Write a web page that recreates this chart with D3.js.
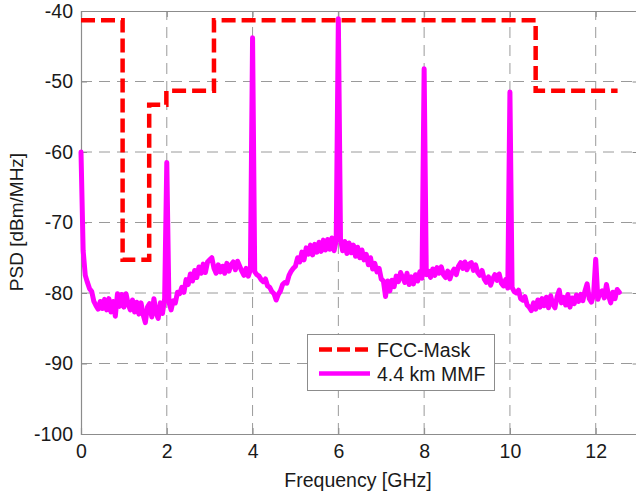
<!DOCTYPE html>
<html>
<head>
<meta charset="utf-8">
<script src="https://cdn.jsdelivr.net/npm/d3@7"></script>
<style>
  html, body { margin: 0; padding: 0; background: #fff; }
  svg { display: block; }
  text { font-family: "Liberation Sans", Arial, Helvetica, sans-serif; fill: #1a1a1a; }
</style>
</head>
<body>
<svg id="chart" width="636" height="494"></svg>
<script>
// ---------- data ----------
const xTicks = [0, 2, 4, 6, 8, 10, 12];
const yTicks = [-100, -90, -80, -70, -60, -50, -40];
const xLabel = "Frequency [GHz]";
const yLabel = "PSD [dBm/MHz]";
const seriesNames = ["FCC-Mask", "4.4 km MMF"];

// FCC indoor UWB mask (step function corners)
const maskFreq = [0, 0.97, 0.97, 1.59, 1.59, 1.99, 1.99, 3.1, 3.1, 10.6, 10.6, 12.51];
const maskPsd  = [-41.3, -41.3, -75.3, -75.3, -53.3, -53.3, -51.3, -51.3, -41.3, -41.3, -51.3, -51.3];

// Measured PSD after 4.4 km MMF, sampled every 0.05 GHz from 0 GHz
const mmfStart = 0;
const mmfStep = 0.05;
const mmfPsd = [
  -60, -74, -77.5, -78.5, -79.4, -79.8, -81.2, -81.8, -82.3, -81.2,
  -82.2, -80.9, -82.4, -80.8, -82.7, -81.2, -83.3, -80.1, -81.9, -80.2,
  -82.0, -80.1, -81.6, -82.4, -81.0, -82.7, -81.3, -83.0, -81.4, -83.1,
  -84.2, -82.0, -81.5, -83.4, -80.8, -82.8, -83.6, -81.4, -82.9, -80.8,
  -61.5, -81.3, -82.4, -81.1, -81.4, -79.9, -80.1, -79.2, -79.9, -78.1,
  -78.8, -77.3, -78.3, -76.8, -77.8, -76.3, -77.2, -75.9, -77.1, -75.6,
  -75.3, -75.0, -76.5, -77.2, -76.0, -77.0, -76.2, -77.2, -75.8, -76.9,
  -76.0, -75.6, -76.7, -75.5, -76.2, -76.9, -77.5, -76.5, -77.6, -76.7,
  -43.8, -77.0, -77.4, -77.6, -78.1, -78.4, -78.0, -79.0, -79.2, -79.8,
  -80.1, -81.0, -80.2, -79.7, -78.8, -78.5, -78.6, -77.5, -76.9, -76.5,
  -76.2, -75.0, -75.6, -74.2, -75.3, -73.6, -74.5, -73.2, -74.6, -73.1,
  -74.2, -72.8, -74.1, -72.5, -73.9, -72.4, -73.8, -72.2, -74.0, -72.6,
  -41.1, -72.4, -74.0, -72.7, -74.4, -72.9, -74.3, -73.2, -74.8, -73.5,
  -75.0, -73.9, -75.3, -74.5, -76.0, -75.0, -76.6, -75.8, -77.0, -76.5,
  -78.0, -78.3, -80.5, -78.3, -79.7, -78.2, -79.1, -77.6, -78.4, -77.1,
  -77.8, -78.5, -77.2, -78.8, -77.7, -78.7, -77.4, -78.3, -77.0, -77.9,
  -48.2, -77.4, -76.9, -77.8, -76.6, -77.5, -76.4, -77.2, -76.3, -77.4,
  -77.8, -76.9, -78.0, -77.1, -76.6, -77.4, -76.2, -75.7, -76.5, -75.6,
  -76.7, -75.9, -75.7, -76.8, -76.0, -77.1, -77.5, -76.8, -78.0, -78.5,
  -77.7, -78.9, -78.0, -77.4, -78.2, -77.3, -78.6, -79.0, -78.1, -79.3,
  -51.5, -79.2, -79.8, -80.0, -79.6, -80.8, -81.0, -80.5, -81.7, -82.0,
  -82.5, -81.4, -82.3, -81.0, -82.0, -80.8, -81.8, -80.6, -82.1, -80.4,
  -81.6, -82.1, -80.5, -79.6, -81.4, -80.6, -81.7, -80.2, -82.0, -80.7,
  -81.5, -80.3, -81.2, -80.2, -81.1, -79.7, -78.7, -80.8, -81.3, -80.3,
  -75.2, -80.9, -80.0, -79.7, -80.7, -78.8, -80.4, -81.4, -79.9, -80.8,
  -79.5, -79.9
];

// ---------- layout ----------
const svg = d3.select("#chart");
const x = d3.scaleLinear().domain([0, 13]).range([81, 638.6]);
const y = d3.scaleLinear().domain([-100, -40]).range([434, 11]);
const x0 = x.range()[0], x1 = x.range()[1];
const y0 = y.range()[0], y1 = y.range()[1];

// grid
const gridColor = "#9a9a9a";
svg.append("g").selectAll("line").data(xTicks.filter(d => d > 0))
  .join("line")
  .attr("x1", d => x(d)).attr("x2", d => x(d))
  .attr("y1", y0).attr("y2", y1)
  .attr("stroke", gridColor).attr("stroke-width", 1)
  .attr("stroke-dasharray", "11,7");
svg.append("g").selectAll("line").data(yTicks.filter(d => d > -100 && d < -40))
  .join("line")
  .attr("x1", x0).attr("x2", x1)
  .attr("y1", d => y(d)).attr("y2", d => y(d))
  .attr("stroke", gridColor).attr("stroke-width", 1)
  .attr("stroke-dasharray", "11,7");

// axes (MATLAB-like box with inward ticks)
const axisColor = "#8c8c8c";
const tickLen = 6;
const xAxisB = d3.axisBottom(x).tickValues(xTicks).tickSize(-tickLen).tickPadding(10).tickFormat(d3.format("d"));
const xAxisT = d3.axisTop(x).tickValues(xTicks).tickSize(-tickLen).tickFormat("");
const yAxisL = d3.axisLeft(y).tickValues(yTicks).tickSize(-tickLen).tickPadding(8).tickFormat(d => d3.format("d")(d).replace("\u2212", "-"));
const yAxisR = d3.axisRight(y).tickValues(yTicks).tickSize(-tickLen).tickFormat("");

function styleAxis(g) {
  g.select(".domain").attr("stroke", axisColor).attr("stroke-width", 1.2);
  g.selectAll(".tick line").attr("stroke", axisColor).attr("stroke-width", 1);
  g.selectAll(".tick text").style("font-size", "19.5px").attr("fill", "#1a1a1a")
    .style("font-family", '"Liberation Sans", Arial, Helvetica, sans-serif');
}
svg.append("g").attr("transform", `translate(0,${y0})`).call(xAxisB).call(styleAxis);
svg.append("g").attr("transform", `translate(0,${y1})`).call(xAxisT).call(styleAxis);
svg.append("g").attr("transform", `translate(${x0},0)`).call(yAxisL).call(styleAxis);
svg.append("g").attr("transform", `translate(${x1},0)`).call(yAxisR).call(styleAxis);

// axis labels
svg.append("text").attr("x", 358).attr("y", 487)
  .attr("text-anchor", "middle").style("font-size", "19.5px").text(xLabel);
svg.append("text").attr("transform", "translate(23,222) rotate(-90)")
  .attr("text-anchor", "middle").style("font-size", "19px").text(yLabel);

// mask line
const maskPts = maskFreq.map((f, i) => [f, maskPsd[i]]);
const line = d3.line().x(d => x(d[0])).y(d => y(d[1]));
svg.append("path").datum(maskPts)
  .attr("d", line)
  .attr("fill", "none").attr("stroke", "#ff0000").attr("stroke-width", 4.5)
  .attr("stroke-dasharray", "14,6");

// measured spectrum
const mmfPts = mmfPsd.map((v, i) => [mmfStart + i * mmfStep, v]);
svg.append("path").datum(mmfPts)
  .attr("d", line)
  .attr("fill", "none").attr("stroke", "#ff00ff").attr("stroke-width", 5)
  .attr("stroke-linejoin", "round").attr("stroke-linecap", "round");

// legend
const lg = svg.append("g");
lg.append("rect").attr("x", 307.5).attr("y", 334.5).attr("width", 187).attr("height", 56)
  .attr("fill", "#fff").attr("stroke", "#8c8c8c").attr("stroke-width", 1);
const legendItems = [
  { name: seriesNames[0], color: "#ff0000", dash: "13,5", yy: 349.5 },
  { name: seriesNames[1], color: "#ff00ff", dash: null, yy: 373.5 }
];
legendItems.forEach(it => {
  lg.append("line").attr("x1", 319).attr("x2", 370).attr("y1", it.yy).attr("y2", it.yy)
    .attr("stroke", it.color).attr("stroke-width", 4.5)
    .attr("stroke-dasharray", it.dash);
  lg.append("text").attr("x", 377).attr("y", it.yy + 7)
    .style("font-size", "19.5px").text(it.name);
});
</script>
</body>
</html>
